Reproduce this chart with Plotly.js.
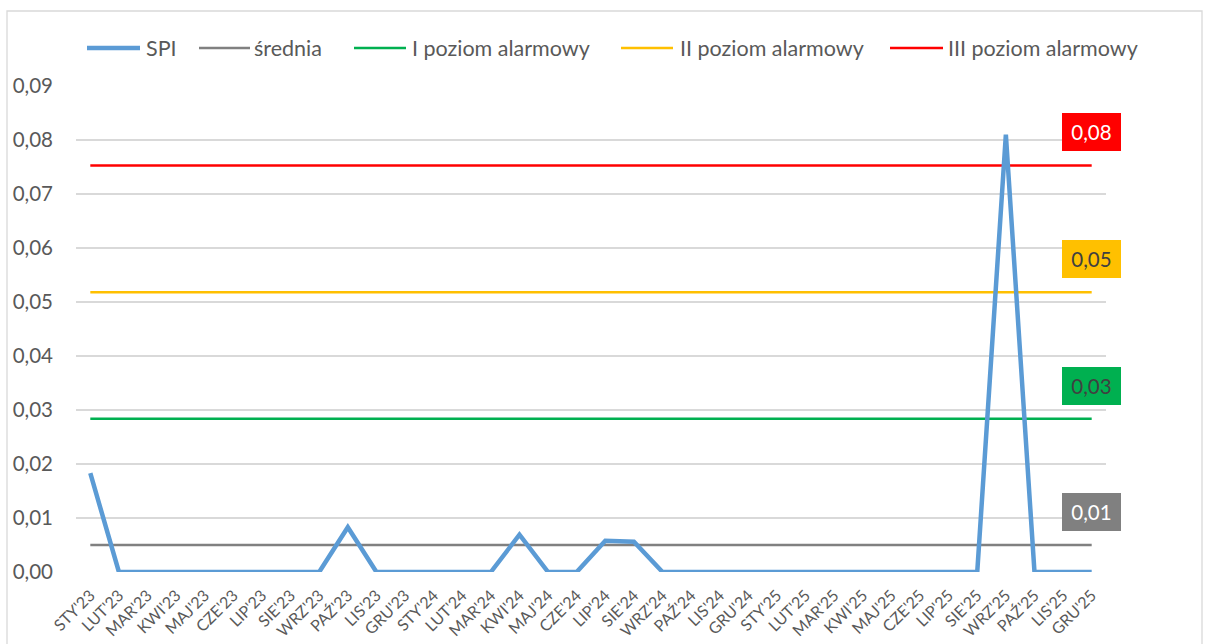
<!DOCTYPE html>
<html>
<head>
<meta charset="utf-8">
<script src="https://cdn.plot.ly/plotly-3.0.1.min.js"></script>
<style>html,body{margin:0;padding:0;background:#fff;}#chart{width:1205px;height:644px;}</style>
</head>
<body>
<div id="chart"></div>
<script>
// ---- data ----
const categories = ["STY'23","LUT'23","MAR'23","KWI'23","MAJ'23","CZE'23","LIP'23","SIE'23","WRZ'23","PAŹ'23","LIS'23","GRU'23",
  "STY'24","LUT'24","MAR'24","KWI'24","MAJ'24","CZE'24","LIP'24","SIE'24","WRZ'24","PAŹ'24","LIS'24","GRU'24",
  "STY'25","LUT'25","MAR'25","KWI'25","MAJ'25","CZE'25","LIP'25","SIE'25","WRZ'25","PAŹ'25","LIS'25","GRU'25"];
const spiValues = [0.0183,0,0,0,0,0,0,0,0,0.0083,0,0,
  0,0,0,0.0069,0,0,0.0058,0.0056,0,0,0,0,
  0,0,0,0,0,0,0,0,0.0810,0,0,0];
const meanValue = 0.0050;
const level1Value = 0.0284;
const level2Value = 0.0518;
const level3Value = 0.0753;
const seriesNames = ["SPI","średnia","I poziom alarmowy","II poziom alarmowy","III poziom alarmowy"];
const yTickValues = [0,0.01,0.02,0.03,0.04,0.05,0.06,0.07,0.08,0.09];

// ---- layout geometry (pixels) ----
const W = 1205, H = 644;
const plotL = 76, plotR = 1106, plotT = 86, plotB = 572;
const px2x = p => (p - plotL) / (plotR - plotL);
const px2y = p => (plotB - p) / (plotB - plotT);

const FONT = "Lato, 'Open Sans', sans-serif";
const TXT = "#595959";

const colors = ["#5B9BD5","#808080","#00B050","#FFC000","#FF0000"];
const widths = [4.5,2.5,2.5,2.5,2.5];
const levelVals = [meanValue, level1Value, level2Value, level3Value];

const traces = [];
traces.push({x: categories, y: spiValues, type: 'scatter', mode: 'lines', name: seriesNames[0],
  line: {color: colors[0], width: widths[0]}, showlegend: false, hoverinfo: 'x+y'});
levelVals.forEach((v, i) => {
  traces.push({x: categories, y: categories.map(() => v), type: 'scatter', mode: 'lines', name: seriesNames[i+1],
    line: {color: colors[i+1], width: widths[i+1]}, showlegend: false});
});
// draw SPI on top
const ordered = traces.slice(1).concat([traces[0]]);

// custom legend
const legendY = 48;
const legendItems = [
  {s0: 87, s1: 140, t: 145},
  {s0: 199, s1: 250, t: 253},
  {s0: 354, s1: 406, t: 411},
  {s0: 621, s1: 673, t: 679},
  {s0: 890, s1: 943, t: 947}
];
const shapes = [];
const annotations = [];
legendItems.forEach((it, i) => {
  shapes.push({type: 'line', xref: 'paper', yref: 'paper', x0: px2x(it.s0), x1: px2x(it.s1),
    y0: px2y(legendY), y1: px2y(legendY), line: {color: colors[i], width: widths[i]}});
  annotations.push({xref: 'paper', yref: 'paper', x: px2x(it.t), y: px2y(legendY), xanchor: 'left', yanchor: 'middle',
    text: seriesNames[i], showarrow: false, borderpad: 0, font: {family: FONT, size: 21.5, color: TXT}});
});
// frame
shapes.push({type: 'rect', xref: 'paper', yref: 'paper', x0: px2x(7), x1: px2x(1202), y0: px2y(700), y1: px2y(11),
  line: {color: '#D9D9D9', width: 1.3}, fillcolor: 'rgba(0,0,0,0)', layer: 'below'});

// value labels for levels
const fmt = v => (Math.round(v * 100) / 100).toFixed(2).replace('.', ',');
const labelBg = ["#808080","#00B050","#FFC000","#FF0000"];
const labelFg = ["#FFFFFF","#404040","#404040","#FFFFFF"];
levelVals.forEach((v, i) => {
  annotations.push({x: categories[categories.length - 1], y: v, xref: 'x', yref: 'y', yshift: 33,
    xanchor: 'center', yanchor: 'middle', showarrow: false, text: fmt(v),
    bgcolor: labelBg[i], font: {family: FONT, size: 20.5, color: labelFg[i]},
    width: 55, height: 34, borderpad: 2, borderwidth: 0, align: 'center', valign: 'middle'});
});

const layout = {
  width: W, height: H,
  margin: {l: plotL, r: W - plotR, t: plotT, b: H - plotB, pad: 0},
  paper_bgcolor: '#fff', plot_bgcolor: '#fff',
  separators: ', ',
  font: {family: FONT, color: TXT},
  showlegend: false,
  xaxis: {type: 'category', range: [-0.5, categories.length - 0.5], showgrid: false, zeroline: false,
    showline: false, ticks: '', tickangle: -45, ticklabelstandoff: 10,
    tickfont: {family: FONT, size: 16, color: TXT}, fixedrange: true, automargin: false},
  yaxis: {range: [0, 0.09], tickvals: yTickValues, tickformat: '.2f', showgrid: true, gridcolor: '#D9D9D9',
    gridwidth: 1.5, zeroline: false, showline: false, ticks: '', ticklabelstandoff: 22,
    tickfont: {family: FONT, size: 20.5, color: TXT}, fixedrange: true, automargin: false},
  shapes: shapes,
  annotations: annotations
};

Plotly.newPlot('chart', ordered, layout, {displayModeBar: false, staticPlot: true});
</script>
</body>
</html>
